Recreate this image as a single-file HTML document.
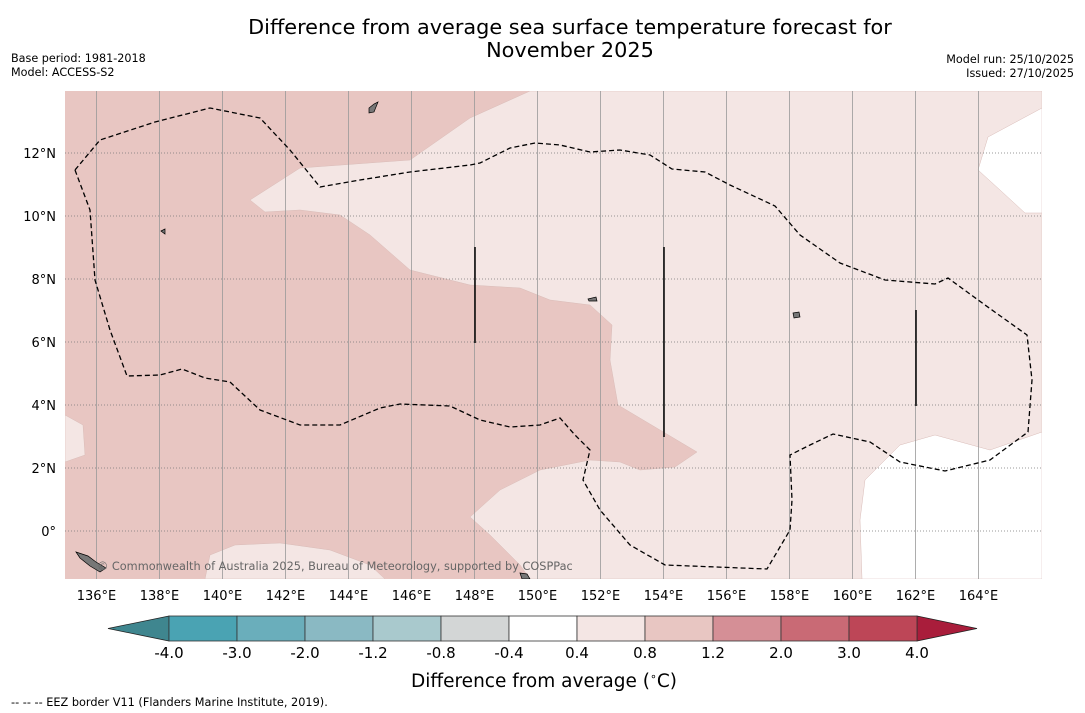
<!DOCTYPE html>
<html><head><meta charset="utf-8"><style>
body{margin:0;background:#fff;width:1085px;height:713px;overflow:hidden;font-family:"DejaVu Sans","Liberation Sans",sans-serif}
svg{position:absolute;left:0;top:0}
</style></head><body>
<svg width="1085" height="713">
<text x="570" y="34" font-size="20.8" text-anchor="middle">Difference from average sea surface temperature forecast for</text>
<text x="570" y="57" font-size="20.8" text-anchor="middle">November 2025</text>
<text x="11" y="62" font-size="11.2">Base period: 1981-2018</text>
<text x="11" y="76" font-size="11.2">Model: ACCESS-S2</text>
<text x="1074" y="63" font-size="11.2" text-anchor="end">Model run: 25/10/2025</text>
<text x="1074" y="77" font-size="11.2" text-anchor="end">Issued: 27/10/2025</text>
<defs><clipPath id="mc"><rect x="65" y="91" width="977" height="488"/></clipPath></defs>
<g id="map" clip-path="url(#mc)">
<rect x="65" y="91" width="977" height="488" fill="#e8c6c2"/>
<polygon fill="#f4e6e4" stroke="#d9bcb8" stroke-width="0.5" points="530,91 470,118 410,160 300,168 250,200 265,212 300,210 340,215 370,235 410,270 470,285 520,288 550,300 590,305 612,325 610,360 618,405 660,430 697,452 675,467 640,470 620,462 590,460 540,470 500,490 470,517 490,535 520,565 530,579 1042,579 1042,91"/>
<polygon fill="#f4e6e4" stroke="#d9bcb8" stroke-width="0.5" points="65,415 83,425 85,455 65,462"/>
<polygon fill="#f4e6e4" stroke="#d9bcb8" stroke-width="0.5" points="205,579 210,555 235,545 280,543 330,550 370,565 385,579"/>
<polygon fill="#ffffff" stroke="#d9bcb8" stroke-width="0.5" points="1042,108 988,137 978,170 1000,190 1025,213 1042,213"/>
<polygon fill="#ffffff" stroke="#d9bcb8" stroke-width="0.5" points="862,579 860,520 865,480 900,445 935,435 990,450 1042,432 1042,579"/>
<g id="grid"></g>
<polygon fill="none" stroke="#000" stroke-width="1.3" stroke-dasharray="5,3" points="75,170 90,210 95,280 110,330 127,376 160,375 182,369 205,378 230,382 260,410 300,425 340,425 380,408 400,404 450,406 480,420 510,427 540,425 560,418 575,435 590,450 583,480 600,510 630,545 665,565 767,569 790,530 792,500 790,455 810,445 833,434 870,442 900,462 945,471 990,460 1028,432 1032,380 1027,335 985,305 948,278 935,284 885,280 840,263 800,235 775,206 730,185 705,172 672,169 650,155 620,150 590,152 560,145 535,143 510,148 480,163 470,165 410,172 360,180 320,187 290,150 260,118 210,108 155,122 100,140"/>
<line x1="475" y1="247" x2="475" y2="343" stroke="#000" stroke-width="1.5"/>
<line x1="664" y1="247" x2="664" y2="437" stroke="#000" stroke-width="1.5"/>
<line x1="916" y1="310" x2="916" y2="406" stroke="#000" stroke-width="1.5"/>
<g fill="#777" stroke="#000" stroke-width="0.7">
<polygon points="76,552 88,556 96,562 106,568 100,572 90,566 80,558"/>
<polygon points="369,108 374,104 378,102 374,112 369,113"/>
<polygon points="793,313 799,312 800,317 794,318"/>
<polygon points="520,573 527,574 530,579 522,579"/>
<polygon points="588,299 596,297 597,301 589,301"/>
<polygon points="161,231 165,229 165,234"/>
</g>
<text x="97" y="570" font-size="11.3" fill="#666">© Commonwealth of Australia 2025, Bureau of Meteorology, supported by COSPPac</text>
</g>
<g id="axes"></g>
<g id="cbar"></g>
<text x="544" y="687" font-size="18.5" text-anchor="middle">Difference from average (<tspan font-size="11" dy="-7">∘</tspan><tspan dy="7">C)</tspan></text>
<text x="11" y="706" font-size="11.3">--  --  -- EEZ border V11 (Flanders Marine Institute, 2019).</text>
</svg>
<script>
const lonTicks=[136,138,140,142,144,146,148,150,152,154,156,158,160,162,164];
const latTicks=[0,2,4,6,8,10,12];
const cbarBounds=["-4.0","-3.0","-2.0","-1.2","-0.8","-0.4","0.4","0.8","1.2","2.0","3.0","4.0"];
const cbarColors=["#4aa3b3","#6aaebb","#8ab9c3","#a9c9cd","#d3d6d6","#ffffff","#f4e6e4","#e8c6c2","#d58f96","#c96a75","#bd4657"];
const ns="http://www.w3.org/2000/svg";
const X=lon=>65+(lon-135)*31.5, Y=lat=>531-lat*31.5;
function mk(t,a,p){const e=document.createElementNS(ns,t);for(const k in a)e.setAttribute(k,a[k]);p.appendChild(e);return e;}
const grid=document.getElementById('grid'),axes=document.getElementById('axes');
lonTicks.forEach(l=>{
 const g=mk('line',{x1:X(l),x2:X(l),y1:91,y2:579,stroke:'#999',"stroke-width":0.8},grid);
 
 
 const t=mk('text',{x:X(l),y:600,"font-size":13,"text-anchor":"middle"},axes);t.textContent=l+'°E';
 
 
});
latTicks.forEach(l=>{
 const g=mk('line',{x1:65,x2:1042,y1:Y(l),y2:Y(l),stroke:'#777',"stroke-width":0.8,"stroke-dasharray":"1,2"},grid);
 
 
 const t=mk('text',{x:56,y:Y(l)+5,"font-size":13,"text-anchor":"end"},axes);t.textContent=l===0?'0°':l+'°N';
 
 
});
const cb=document.getElementById('cbar');
const x0=169,w=68,y0=616,h=25,n=cbarColors.length;
const lt=mk('polygon',{points:`${x0},${y0} 108,${y0+h/2} ${x0},${y0+h}`,fill:'#3f868f',stroke:'#222',"stroke-width":0.8},cb);


const rt=mk('polygon',{points:`${x0+n*w},${y0} 977,${y0+h/2} ${x0+n*w},${y0+h}`,fill:'#a91d3b',stroke:'#222',"stroke-width":0.8},cb);


cbarColors.forEach((c,i)=>{
 const r=mk('rect',{x:x0+i*w,y:y0,width:w,height:h,fill:c,stroke:'#333',"stroke-width":0.8},cb);
 
 
});
cbarBounds.forEach((b,i)=>{
 const t=mk('text',{x:x0+i*w,y:658,"font-size":15,"text-anchor":"middle"},cb);t.textContent=b;
 
 
});
</script>
</body></html>
